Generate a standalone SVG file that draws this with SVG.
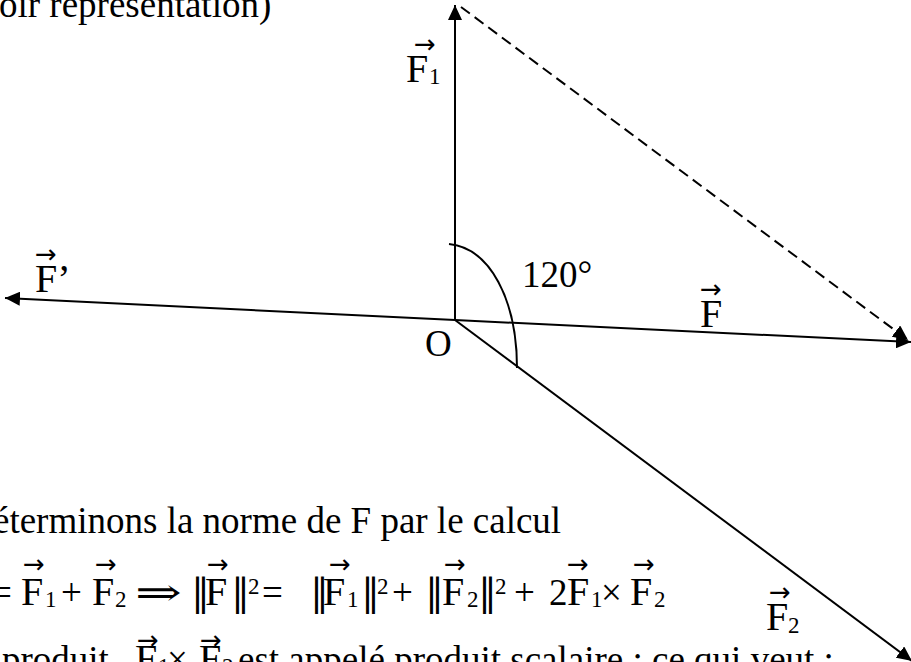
<svg xmlns="http://www.w3.org/2000/svg" width="911" height="662" viewBox="0 0 911 662">
<defs>
<style>
text{font-family:"Liberation Serif","Times New Roman","DejaVu Serif",serif;fill:#000}
.t{font-size:37px}
.f{font-size:40px}
.s{font-size:23px}
.v{font-family:"DejaVu Sans",sans-serif;font-size:26px;text-anchor:middle}
.bar{font-family:"DejaVu Serif","Liberation Serif",serif;font-size:37px;text-anchor:middle}
.ln{stroke:#000;stroke-width:2;fill:none}
</style>
<marker id="ah" markerUnits="userSpaceOnUse" markerWidth="16" markerHeight="14" refX="15" refY="7" orient="auto">
<path d="M0,0 L15,7 L0,14 z" fill="#000"/>
</marker>
</defs>
<rect width="911" height="662" fill="#fff"/>

<g id="connectors">
<line class="ln" x1="455" y1="320" x2="455" y2="5" marker-end="url(#ah)"/>
<line class="ln" x1="455" y1="320" x2="5" y2="298" marker-end="url(#ah)"/>
<line class="ln" x1="455" y1="320" x2="911" y2="342" marker-end="url(#ah)"/>
<line class="ln" x1="455" y1="320" x2="912" y2="661" marker-end="url(#ah)"/>
<line class="ln" x1="461" y1="7" x2="908" y2="340" stroke-dasharray="11 6" marker-end="url(#ah)"/>
<path class="ln" d="M449 244 C490 248 517 300 517 368" stroke-width="1.8"/>
</g>

<g id="node-F1">
<text class="v" x="425" y="53">→</text>
<text class="f" x="406" y="82">F</text>
<text class="s" x="429" y="84">1</text>
</g>
<g id="node-Fprime">
<text class="v" x="46" y="263">→</text>
<text class="f" x="35" y="292">F’</text>
</g>
<g id="node-F">
<text class="v" x="711" y="298">→</text>
<text class="f" x="700" y="327">F</text>
</g>
<g id="node-F2">
<text class="v" x="780" y="601">→</text>
<text class="f" x="766" y="630">F</text>
<text class="s" x="788" y="633">2</text>
</g>
<g id="node-angle">
<text class="t" x="522" y="287">120°</text>
</g>
<g id="node-O">
<text class="t" x="425" y="356">O</text>
</g>

<g id="text-top">
<text class="t" x="-1" y="17">oir représentation)</text>
</g>
<g id="text-line1">
<text class="t" x="-7" y="533">éterminons la norme de F par le calcul</text>
</g>
<g id="text-formula">
<text class="t" x="-9" y="605">=</text>
<text class="v" x="34" y="573">→</text><text class="f" x="21" y="605">F</text><text class="s" x="45" y="607">1</text>
<text class="t" x="61" y="605">+</text>
<text class="v" x="106" y="573">→</text><text class="f" x="92" y="605">F</text><text class="s" x="115" y="607">2</text>
<text class="t" x="135" y="605" textLength="47" lengthAdjust="spacingAndGlyphs" style="font-family:'DejaVu Serif',serif">⇒</text>
<text class="bar" x="200.5" y="605">‖</text>
<text class="v" x="218" y="573">→</text><text class="f" x="205" y="605">F</text>
<text class="bar" x="240.5" y="605">‖</text>
<text class="s" x="248" y="594">2</text>
<text class="t" x="262" y="605">=</text>
<text class="bar" x="319.5" y="605">‖</text>
<text class="v" x="340" y="573">→</text><text class="f" x="323" y="605">F</text><text class="s" x="347" y="607">1</text>
<text class="bar" x="370.5" y="605">‖</text>
<text class="s" x="377" y="594">2</text>
<text class="t" x="392" y="605">+</text>
<text class="bar" x="434.5" y="605">‖</text>
<text class="v" x="455" y="573">→</text><text class="f" x="442" y="605">F</text><text class="s" x="467" y="607">2</text>
<text class="bar" x="487.5" y="605">‖</text>
<text class="s" x="495" y="594">2</text>
<text class="t" x="514" y="605">+</text>
<text class="t" x="549" y="605">2</text>
<text class="v" x="578" y="573">→</text><text class="f" x="567" y="605">F</text><text class="s" x="591" y="607">1</text>
<text class="t" x="601" y="605">×</text>
<text class="v" x="644" y="573">→</text><text class="f" x="630" y="605">F</text><text class="s" x="654" y="607">2</text>
</g>
<g id="text-line3">
<text class="t" x="2" y="672">produit</text>
<text class="v" x="148" y="649">→</text><text class="f" x="135" y="672">F</text><text class="s" x="158" y="674">1</text>
<text class="t" x="167" y="672">×</text>
<text class="v" x="211" y="649">→</text><text class="f" x="199" y="672">F</text><text class="s" x="222" y="674">2</text>
<text class="t" x="238" y="672">est appelé produit scalaire ; ce qui veut :</text>
</g>
</svg>
